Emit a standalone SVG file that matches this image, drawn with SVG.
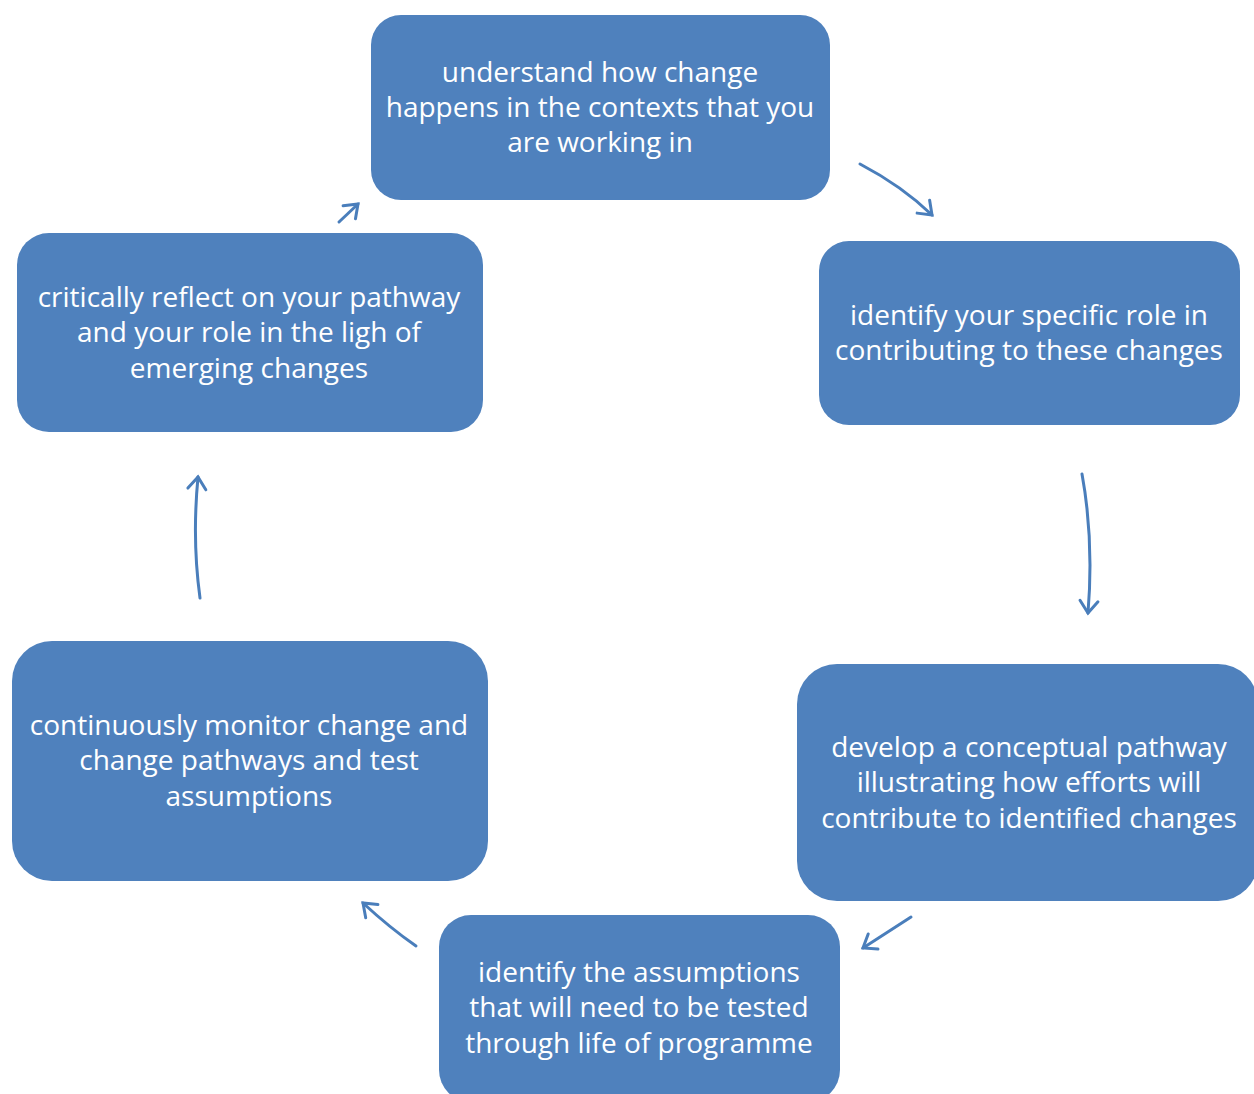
<svg xmlns="http://www.w3.org/2000/svg" width="1254" height="1094" viewBox="0 0 1254 1094">
<style>
.box{fill:#4F81BD;}
.t{font-family:"Open Sans","Noto Sans",sans-serif;font-size:28px;fill:#ffffff;text-anchor:middle;}
.c{fill:none;stroke:#4A7EBB;stroke-width:3;stroke-linecap:round;}
</style>
<defs>
<marker id="ah" markerUnits="userSpaceOnUse" markerWidth="30" markerHeight="30" refX="15" refY="15" orient="auto" overflow="visible">
<path d="M3,6 L15,15 L3,24" fill="none" stroke="#4A7EBB" stroke-width="3" stroke-linecap="round" stroke-linejoin="miter"/>
</marker>
</defs>
<rect width="1254" height="1094" fill="#ffffff"/>
<g id="n1">
<rect class="box" x="371" y="15" width="459" height="185" rx="30"/>
<text class="t"><tspan x="600" y="82">understand how change</tspan><tspan x="600" y="117">happens in the contexts that you</tspan><tspan x="600" y="152">are working in</tspan></text>
</g>
<g id="n2">
<rect class="box" x="819" y="241" width="421" height="184" rx="30"/>
<text class="t"><tspan x="1029" y="325">identify your specific role in</tspan><tspan x="1029" y="360">contributing to these changes</tspan></text>
</g>
<g id="n3">
<rect class="box" x="797" y="664" width="461" height="237" rx="40"/>
<text class="t"><tspan x="1029" y="757">develop a conceptual pathway</tspan><tspan x="1029" y="792">illustrating how efforts will</tspan><tspan x="1029" y="828">contribute to identified changes</tspan></text>
</g>
<g id="n4">
<rect class="box" x="439" y="915" width="401" height="187" rx="32"/>
<text class="t"><tspan x="639" y="982">identify the assumptions</tspan><tspan x="639" y="1017">that will need to be tested</tspan><tspan x="639" y="1053">through life of programme</tspan></text>
</g>
<g id="n5">
<rect class="box" x="12" y="641" width="476" height="240" rx="40"/>
<text class="t"><tspan x="249" y="735">continuously monitor change and</tspan><tspan x="249" y="770">change pathways and test</tspan><tspan x="249" y="806">assumptions</tspan></text>
</g>
<g id="n6">
<rect class="box" x="17" y="233" width="466" height="199" rx="32"/>
<text class="t"><tspan x="249" y="307">critically reflect on your pathway</tspan><tspan x="249" y="342">and your role in the ligh of</tspan><tspan x="249" y="378">emerging changes</tspan></text>
</g>
<g id="connectors">
<path class="c" d="M860,164 Q902,186 932,215" marker-end="url(#ah)"/>
<path class="c" d="M1082,474 Q1094,540 1088,613" marker-end="url(#ah)"/>
<path class="c" d="M911,917 L863,948" marker-end="url(#ah)"/>
<path class="c" d="M416,946 Q390,928 363,903" marker-end="url(#ah)"/>
<path class="c" d="M200,598 Q192,540 198,477" marker-end="url(#ah)"/>
<path class="c" d="M339,222 L358,204" marker-end="url(#ah)"/>
</g>
</svg>
